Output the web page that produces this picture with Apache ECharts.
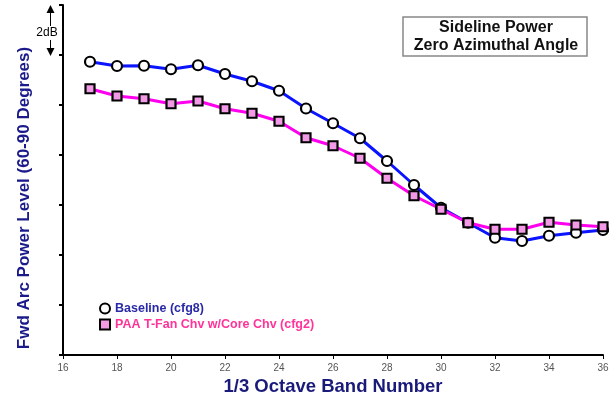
<!DOCTYPE html>
<html><head><meta charset="utf-8">
<script src="https://cdn.jsdelivr.net/npm/echarts@6/dist/echarts.min.js"></script>
<style>html,body{margin:0;padding:0;background:#fff}#c{width:613px;height:401px}</style>
</head><body><div id="c"></div>
<script>
const bands = [17,18,19,20,21,22,23,24,25,26,27,28,29,30,31,32,33,34,35,36];
const baseline = [11.73,11.56,11.57,11.43,11.59,11.24,10.95,10.57,9.86,9.27,8.67,7.76,6.80,5.89,5.29,4.69,4.56,4.77,4.89,5.00];
const paa = [10.65,10.36,10.25,10.05,10.16,9.85,9.67,9.35,8.69,8.37,7.87,7.07,6.37,5.83,5.29,5.03,5.03,5.31,5.20,5.13];
const seriesNames = ['Baseline (cfg8)','PAA T-Fan Chv w/Core Chv (cfg2)'];
const xTicks = [16,18,20,22,24,26,28,30,32,34,36];

const chart = echarts.init(document.getElementById('c'));
const font = 'Arial, "Liberation Sans", sans-serif';
chart.setOption({
  animation:false,
  grid:{left:63,right:10,top:5,bottom:46,containLabel:false,outerBoundsMode:'none'},
  xAxis:{type:'value',min:16,max:36,interval:2,
    name:'1/3 Octave Band Number',nameLocation:'middle',nameGap:22,
    nameTextStyle:{fontFamily:font,fontWeight:'bold',fontSize:18.5,color:'#1a1a7a'},
    axisLine:{lineStyle:{color:'#000',width:2}},
    axisTick:{length:4,lineStyle:{color:'#000',width:1}},
    axisLabel:{fontFamily:font,fontSize:10,color:'#555',margin:8,
      formatter:v=>xTicks.includes(v)?String(v):''},
    splitLine:{show:false}},
  yAxis:{type:'value',min:0,max:14,interval:2,
    axisLine:{show:true,lineStyle:{color:'#000',width:2}},
    axisTick:{show:true,length:4,lineStyle:{color:'#000',width:2}},
    axisLabel:{show:false},splitLine:{show:false}},
  legend:{orient:'vertical',left:94,top:297,itemWidth:10,itemHeight:10,itemGap:3,
    textStyle:{fontFamily:font,fontWeight:'bold',fontSize:12.5},
    data:[{name:seriesNames[0],icon:'circle',textStyle:{color:'#2a2aa8'}},
          {name:seriesNames[1],icon:'rect',textStyle:{color:'#ff3399'}}]},
  series:[
    {name:seriesNames[0],type:'line',data:bands.map((b,i)=>[b,baseline[i]]),
     symbol:'circle',symbolSize:10,
     lineStyle:{color:'#0a14ff',width:3},
     itemStyle:{color:'#ffffff',borderColor:'#000',borderWidth:2.2}},
    {name:seriesNames[1],type:'line',data:bands.map((b,i)=>[b,paa[i]]),
     symbol:'rect',symbolSize:9,
     lineStyle:{color:'#ff00ee',width:3},
     itemStyle:{color:'#f29ae6',borderColor:'#000',borderWidth:2.2}}
  ],
  graphic:[
    {type:'text',x:24,y:198,rotation:Math.PI/2,
     style:{text:'Fwd Arc Power Level (60-90 Degrees)',fontFamily:font,fontWeight:'bold',fontSize:17,fill:'#1a1a8a',align:'center',verticalAlign:'middle'}},
    {type:'rect',shape:{x:403,y:17,width:184,height:39},style:{fill:'#fff',stroke:'#888',lineWidth:1.5}},
    {type:'text',x:496,y:28,style:{text:'Sideline Power',fontFamily:font,fontWeight:'bold',fontSize:16,fill:'#111',align:'center',verticalAlign:'middle'}},
    {type:'text',x:496,y:46,style:{text:'Zero Azimuthal Angle',fontFamily:font,fontWeight:'bold',fontSize:16,fill:'#111',align:'center',verticalAlign:'middle'}},
    {type:'line',shape:{x1:50.5,y1:7,x2:50.5,y2:53},style:{stroke:'#000',lineWidth:1}},
    {type:'polygon',shape:{points:[[46.5,13],[54.5,13],[50.5,5]]},style:{fill:'#000'}},
    {type:'polygon',shape:{points:[[46.5,48],[54.5,48],[50.5,56]]},style:{fill:'#000'}},
    {type:'text',x:47,y:33,style:{text:'2dB',fontFamily:font,fontSize:12,fill:'#000',align:'center',verticalAlign:'middle',backgroundColor:'#fff',padding:[1,1]}}
  ]
});
</script></body></html>
